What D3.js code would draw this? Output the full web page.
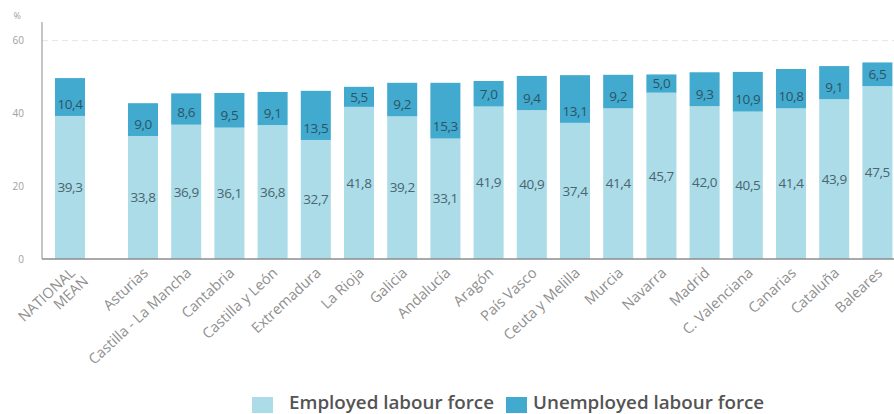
<!DOCTYPE html>
<html>
<head>
<meta charset="utf-8">
<script src="https://cdn.jsdelivr.net/npm/d3@7"></script>
<style>
  html, body { margin: 0; padding: 0; background: #fff; }
  svg { display: block; font-family: "Open Sans", "Noto Sans", sans-serif; }
</style>
</head>
<body>
<svg id="chart" width="894" height="414"></svg>
<script>
// Labour force as a share of population, by autonomous community (%)
const meanLabel = "NATIONAL MEAN";
const meanEmployed = 39.3;
const meanUnemployed = 10.4;

const regions = ["Asturias", "Castilla - La Mancha", "Cantabria", "Castilla y León",
  "Extremadura", "La Rioja", "Galicia", "Andalucía", "Aragón", "País Vasco",
  "Ceuta y Melilla", "Murcia", "Navarra", "Madrid", "C. Valenciana", "Canarias",
  "Cataluña", "Baleares"];
const employed = [33.8, 36.9, 36.1, 36.8, 32.7, 41.8, 39.2, 33.1, 41.9, 40.9,
  37.4, 41.4, 45.7, 42.0, 40.5, 41.4, 43.9, 47.5];
const unemployed = [9.0, 8.6, 9.5, 9.1, 13.5, 5.5, 9.2, 15.3, 7.0, 9.4,
  13.1, 9.2, 5.0, 9.3, 10.9, 10.8, 9.1, 6.5];

const yTicks = [0, 20, 40, 60];
const seriesNames = ["Employed labour force", "Unemployed labour force"];

const colEmployed = "#abdce7";
const colUnemployed = "#42a9cf";
const axisColor = "#8c8c8c";
const labelColor = "#8f8f8f";

const svg = d3.select("#chart");

const baseY = 259;
const y = d3.scaleLinear().domain([0, 60]).range([baseY, baseY - 60 * 3.64]);

const xMean = d3.scaleBand().domain([meanLabel]).range([48.4, 91.6])
  .paddingInner(0.305).paddingOuter(0.1525);
const x = d3.scaleBand().domain(regions).range([121.4, 899])
  .paddingInner(0.305).paddingOuter(0.1525);

const fmt = v => d3.format(".1f")(v).replace(".", ",");

// faint dashed reference line at the top tick
svg.append("line")
  .attr("x1", 42).attr("x2", 894)
  .attr("y1", y(60)).attr("y2", y(60))
  .attr("stroke", "#e6e6e6").attr("stroke-width", 1)
  .attr("stroke-dasharray", "6,4");

// y axis labels
const yAxis = svg.append("g")
  .attr("transform", "translate(24,0)")
  .call(d3.axisLeft(y).tickValues(yTicks).tickSize(0).tickPadding(0).tickFormat(d3.format("d")));
yAxis.select(".domain").remove();
yAxis.selectAll("text")
  .attr("fill", "#a0a0a0").attr("font-size", 10)
  .attr("font-family", "Open Sans, sans-serif");

svg.append("text")
  .attr("x", 21).attr("y", 19)
  .attr("text-anchor", "end")
  .attr("fill", "#a0a0a0").attr("font-size", 9)
  .text("%");

// rows: national mean first, then regions
const rows = [{ name: meanLabel, e: meanEmployed, u: meanUnemployed, scale: xMean }]
  .concat(regions.map((r, i) => ({ name: r, e: employed[i], u: unemployed[i], scale: x })));

const bars = svg.append("g").selectAll("g").data(rows).join("g");

bars.append("rect")
  .attr("x", d => d.scale(d.name))
  .attr("width", d => d.scale.bandwidth())
  .attr("y", d => y(d.e))
  .attr("height", d => y(0) - y(d.e))
  .attr("fill", colEmployed);

bars.append("rect")
  .attr("x", d => d.scale(d.name))
  .attr("width", d => d.scale.bandwidth())
  .attr("y", d => y(d.e + d.u))
  .attr("height", d => y(d.e) - y(d.e + d.u))
  .attr("fill", colUnemployed);

// value labels
bars.append("text")
  .attr("x", d => d.scale(d.name) + d.scale.bandwidth() / 2)
  .attr("y", d => y(d.e / 2))
  .attr("dy", "0.35em")
  .attr("text-anchor", "middle")
  .attr("font-size", 13.5).attr("letter-spacing", -0.4)
  .attr("fill", "#4a6570")
  .text(d => fmt(d.e));

bars.append("text")
  .attr("x", d => d.scale(d.name) + d.scale.bandwidth() / 2)
  .attr("y", d => Math.max(y(d.e) - 12, y(d.e + d.u / 2)))
  .attr("dy", "0.35em")
  .attr("text-anchor", "middle")
  .attr("font-size", 13.5).attr("letter-spacing", -0.4)
  .attr("fill", "#2c5563")
  .text(d => fmt(d.u));

// axes lines
svg.append("line")
  .attr("x1", 42).attr("x2", 42).attr("y1", 22).attr("y2", baseY)
  .attr("stroke", axisColor).attr("stroke-width", 1);
svg.append("line")
  .attr("x1", 42).attr("x2", 894).attr("y1", baseY).attr("y2", baseY)
  .attr("stroke", axisColor).attr("stroke-width", 1.5);

// rotated category labels
function categoryAxis(scale) {
  const g = svg.append("g")
    .attr("transform", `translate(0,${baseY})`)
    .call(d3.axisBottom(scale).tickSize(0).tickPadding(0));
  g.select(".domain").remove();
  g.selectAll(".tick text")
    .attr("text-anchor", "end")
    .attr("font-size", 14.5)
    .attr("font-family", "Open Sans, sans-serif")
    .attr("fill", labelColor)
    .attr("x", 0).attr("y", 0).attr("dy", 0)
    .attr("transform", "translate(6,15) rotate(-43)");
  return g;
}
categoryAxis(x);
const meanAxis = categoryAxis(xMean);
meanAxis.selectAll(".tick text").each(function (d) {
  const t = d3.select(this);
  const parts = d.split(" ");
  t.text(null);
  parts.forEach((p, i) => {
    t.append("tspan").attr("x", i === 0 ? 0 : 4).attr("dy", i === 0 ? 0 : "1.05em").text(p);
  });
});

// legend
const legend = svg.append("g");
const legendItems = [
  { name: seriesNames[0], color: colEmployed, sx: 252, tx: 289 },
  { name: seriesNames[1], color: colUnemployed, sx: 506, tx: 533 }
];
legendItems.forEach(it => {
  legend.append("rect")
    .attr("x", it.sx).attr("y", 397).attr("width", 21).attr("height", 16)
    .attr("fill", it.color);
  legend.append("text")
    .attr("x", it.tx).attr("y", 409)
    .attr("font-size", 18.8).attr("font-weight", 600)
    .attr("fill", "#545454")
    .text(it.name);
});
</script>
</body>
</html>
